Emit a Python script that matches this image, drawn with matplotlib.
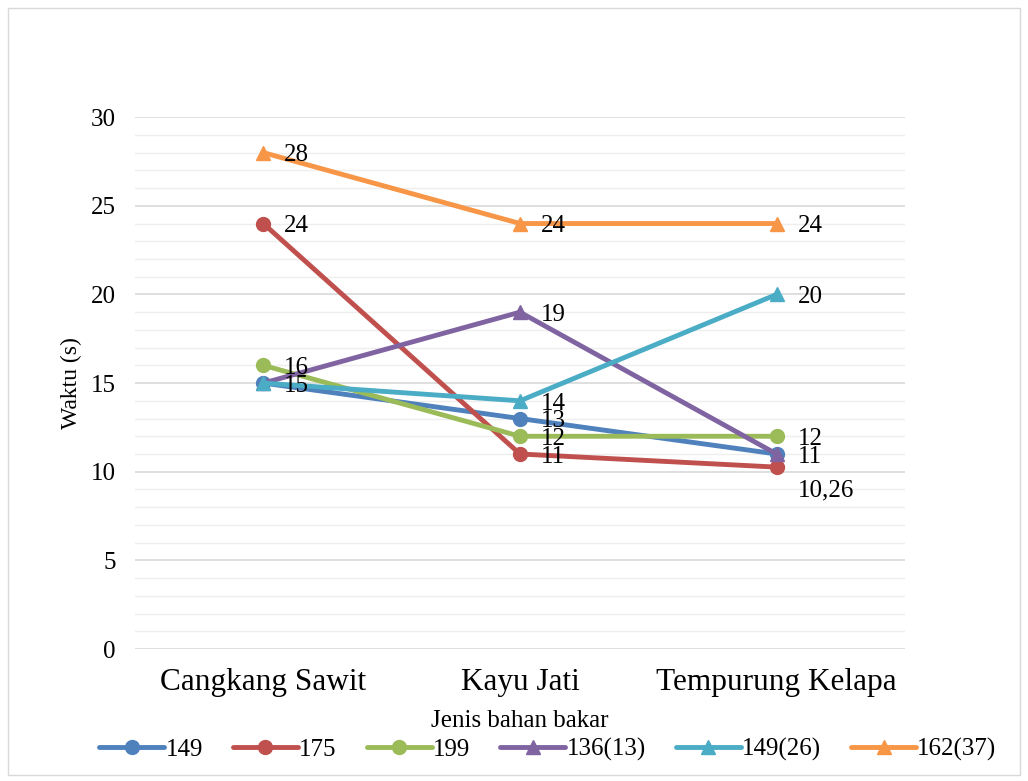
import matplotlib.pyplot as plt
from matplotlib.patches import Rectangle
from matplotlib.ticker import MultipleLocator

plt.rcParams['font.family'] = ['Liberation Serif', 'DejaVu Serif']

categories = ['Cangkang Sawit', 'Kayu Jati', 'Tempurung Kelapa']
series_names = ['149', '175', '199', '136(13)', '149(26)', '162(37)']
s149 = [15, 13, 11]
s175 = [24, 11, 10.26]
s199 = [16, 12, 12]
s136_13 = [15, 19, 11]
s149_26 = [15, 14, 20]
s162_37 = [28, 24, 24]

series = [s149, s175, s199, s136_13, s149_26, s162_37]
colors = ['#4F81BD', '#C0504D', '#9BBB59', '#8064A2', '#4BACC6', '#F79646']
markers = ['o', 'o', 'o', '^', '^', '^']

fig = plt.figure(figsize=(10.28, 7.81), dpi=100)
ax = fig.add_axes([0.1313, 0.169, 0.749, 0.681])

x = list(range(len(categories)))
labelled = set()
for vals, name, c, m in zip(series, series_names, colors, markers):
    ax.plot(x, vals, color=c, lw=3.5, marker=m, markersize=10, label=name,
            solid_capstyle='round')
    for xi, v in zip(x, vals):
        # same value at same category -> labels sit on top of each other, draw once
        if (xi, v) in labelled:
            continue
        labelled.add((xi, v))
        txt = f'{v:g}'.replace('.', ',')
        dy = -17 if v == 10.26 else -2
        ax.annotate(txt, (xi, v), xytext=(15, dy), textcoords='offset points',
                    ha='left', va='center', fontsize=18)

ax.set_xlim(-0.5, 2.5)
ax.set_ylim(0, 30)
ax.yaxis.set_major_locator(MultipleLocator(5))
ax.yaxis.set_minor_locator(MultipleLocator(1))
ax.grid(True, which='major', axis='y', color='#D9D9D9', lw=1.2)
ax.grid(True, which='minor', axis='y', color='#EEEEEE', lw=1.0)
ax.set_axisbelow(True)
for s in ax.spines.values():
    s.set_visible(False)
ax.tick_params(axis='both', which='both', length=0)
ax.tick_params(axis='y', labelsize=18, pad=14)
ax.set_xticks(x)
ax.set_xticklabels(categories, fontsize=22.5)
ax.tick_params(axis='x', pad=14)
ax.set_ylabel('Waktu (s)', fontsize=17, labelpad=6)
ax.set_xlabel('Jenis bahan bakar', fontsize=18, labelpad=9)

fig.legend(*ax.get_legend_handles_labels(), loc='center', bbox_to_anchor=(0.533, 0.04),
           ncol=6, frameon=False, fontsize=18, handlelength=2.6, columnspacing=1.2,
           handletextpad=0.05, borderaxespad=0)

fig.patches.append(Rectangle((0.008, 0.008), 0.984, 0.982, transform=fig.transFigure,
                             fill=False, edgecolor='#D9D9D9', lw=1))

fig.savefig('out.png', dpi=100)
